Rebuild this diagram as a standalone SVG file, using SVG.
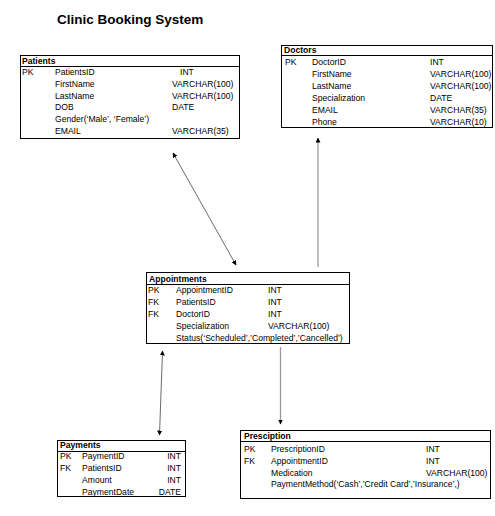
<svg xmlns="http://www.w3.org/2000/svg" width="495" height="516" viewBox="0 0 495 516">
<defs>
<marker id="ah" viewBox="0 0 10 10" refX="9" refY="5" markerWidth="5" markerHeight="5" markerUnits="userSpaceOnUse" orient="auto-start-reverse"><path d="M0,0 L10,5 L0,10 z" fill="#000"/></marker>
</defs>
<style>
.box{fill:#fff;stroke:#000;stroke-width:1}
.sep{stroke:#000;stroke-width:1}
text{font-family:"Liberation Sans",Arial,sans-serif;font-size:8.6px;fill:#000}
.hd{font-weight:bold}
.title{font-size:13.5px;font-weight:bold}
.c{fill:none;stroke:#444;stroke-width:0.8}
.g{fill:none;stroke:#999;stroke-width:1.3}
</style>
<rect width="495" height="516" fill="#fff"/>
<text class="title" x="57" y="24">Clinic Booking System</text>

<g id="connectors">
<line class="c" x1="173" y1="153" x2="236" y2="265" marker-start="url(#ah)" marker-end="url(#ah)"/>
<line class="g" x1="318" y1="267" x2="318" y2="138" marker-end="url(#ah)"/>
<line class="c" x1="162.5" y1="351" x2="159.5" y2="435" marker-start="url(#ah)" marker-end="url(#ah)"/>
<line class="g" x1="280.5" y1="347" x2="280.5" y2="424" marker-end="url(#ah)"/>
</g>

<g id="patients">
<rect class="box" x="20.5" y="55.5" width="219" height="83"/>
<line class="sep" x1="20.5" y1="66.5" x2="239.5" y2="66.5"/>
<text class="hd" x="22" y="63.5">Patients</text>
<text x="22" y="75">PK</text><text x="55" y="75">PatientsID</text><text x="180" y="75">INT</text>
<text x="55" y="87">FirstName</text><text x="172" y="87">VARCHAR(100)</text>
<text x="55" y="99">LastName</text><text x="172" y="99">VARCHAR(100)</text>
<text x="55" y="110">DOB</text><text x="172" y="110">DATE</text>
<text x="55" y="122">Gender(‘Male’, ‘Female’)</text>
<text x="55" y="134">EMAIL</text><text x="172" y="134">VARCHAR(35)</text>
</g>

<g id="doctors">
<rect class="box" x="281.5" y="45.5" width="211" height="82"/>
<line class="sep" x1="281.5" y1="55.5" x2="492.5" y2="55.5"/>
<text class="hd" x="284" y="52.5">Doctors</text>
<text x="285" y="65">PK</text><text x="312" y="65">DoctorID</text><text x="430" y="65">INT</text>
<text x="312" y="77">FirstName</text><text x="430" y="77">VARCHAR(100)</text>
<text x="312" y="89">LastName</text><text x="430" y="89">VARCHAR(100)</text>
<text x="312" y="101">Specialization</text><text x="430" y="101">DATE</text>
<text x="312" y="113">EMAIL</text><text x="430" y="113">VARCHAR(35)</text>
<text x="312" y="125">Phone</text><text x="430" y="125">VARCHAR(10)</text>
</g>

<g id="appointments">
<rect class="box" x="146.5" y="272.5" width="203" height="71"/>
<line class="sep" x1="146.5" y1="284.5" x2="349.5" y2="284.5"/>
<text class="hd" x="149" y="281.5">Appointments</text>
<text x="148" y="293">PK</text><text x="176" y="293">AppointmentID</text><text x="268" y="293">INT</text>
<text x="148" y="305">FK</text><text x="176" y="305">PatientsID</text><text x="268" y="305">INT</text>
<text x="148" y="317">FK</text><text x="176" y="317">DoctorID</text><text x="268" y="317">INT</text>
<text x="176" y="329">Specialization</text><text x="268" y="329">VARCHAR(100)</text>
<text x="176" y="341">Status(‘Scheduled’,’Completed’,’Cancelled’)</text>
</g>

<g id="payments">
<rect class="box" x="57.5" y="440.5" width="128" height="56"/>
<line class="sep" x1="57.5" y1="451.5" x2="185.5" y2="451.5"/>
<text class="hd" x="60" y="448">Payments</text>
<text x="60" y="459">PK</text><text x="82" y="459">PaymentID</text><text x="181" y="459" text-anchor="end">INT</text>
<text x="60" y="471">FK</text><text x="82" y="471">PatientsID</text><text x="181" y="471" text-anchor="end">INT</text>
<text x="82" y="483">Amount</text><text x="181" y="483" text-anchor="end">INT</text>
<text x="82" y="495">PaymentDate</text><text x="181" y="495" text-anchor="end">DATE</text>
</g>

<g id="prescription">
<rect class="box" x="240.5" y="430.5" width="250" height="68"/>
<line class="sep" x1="240.5" y1="441.5" x2="490.5" y2="441.5"/>
<text class="hd" x="244" y="439">Presciption</text>
<text x="244" y="452">PK</text><text x="271" y="452">PrescriptionID</text><text x="426" y="452">INT</text>
<text x="244" y="464">FK</text><text x="271" y="464">AppointmentID</text><text x="426" y="464">INT</text>
<text x="271" y="476">Medication</text><text x="426" y="476">VARCHAR(100)</text>
<text x="271" y="487">PaymentMethod(‘Cash’,’Credit Card’,’Insurance’,)</text>
</g>
</svg>
